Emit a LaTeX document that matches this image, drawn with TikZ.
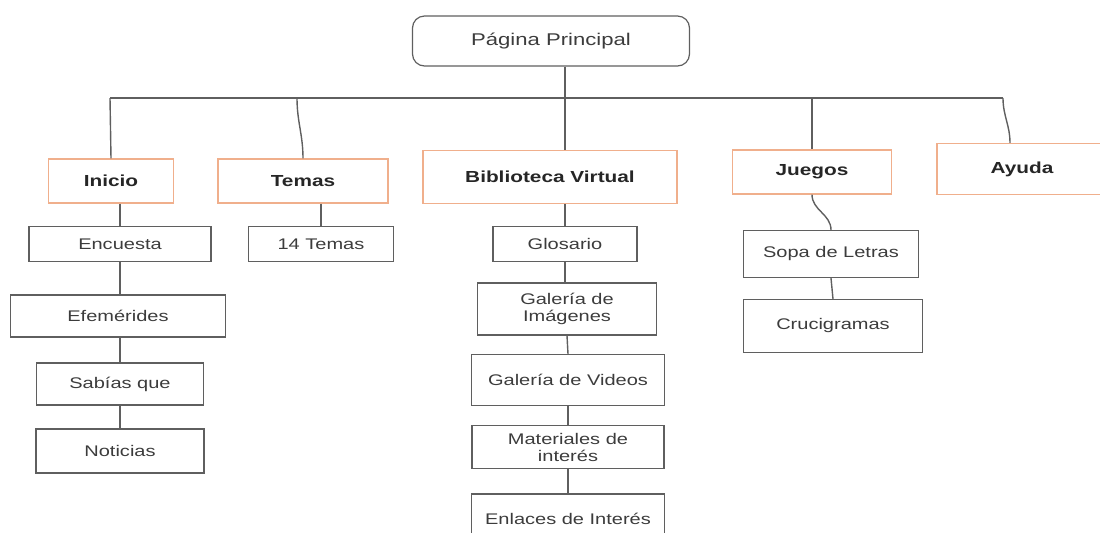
\documentclass[tikz,border=0pt]{standalone}
\usepackage{fontspec}
\setmainfont{Liberation Sans}[FakeStretch=1.3]
\usetikzlibrary{calc}

\definecolor{boxgray}{RGB}{95,95,95}
\definecolor{txtgray}{RGB}{60,60,60}
\definecolor{naranja}{RGB}{240,175,140}

\tikzset{
    caja/.style={draw=boxgray, line width=0.6pt, inner sep=1pt, align=center,
        text=txtgray, font=\fontsize{7.7}{8.5}\selectfont},
    seccion/.style={caja, draw=naranja, text=black!85,
        font=\fontsize{8}{9}\selectfont\bfseries},
    raiz/.style={caja, rounded corners=6pt, font=\fontsize{8.5}{9}\selectfont},
    linea/.style={draw=boxgray, line width=0.7pt}
}

\begin{document}
\begin{tikzpicture}[x=0.5pt, y=-0.5pt]
        \useasboundingbox (0,0) rectangle (1100,532);
        % raiz
        \node[raiz, minimum width=138.5pt, minimum height=25pt] (pag) at (551,41) {Página Principal};
        % secciones
        \node[seccion, minimum width=62.5pt, minimum height=22pt] (inicio) at (111,181) {Inicio};
        \node[seccion, minimum width=85pt, minimum height=22pt] (temas) at (303,181) {Temas};
        \node[seccion, minimum width=127pt, minimum height=26.5pt] (bib) at (550,177) {Biblioteca Virtual};
        \node[seccion, minimum width=79.5pt, minimum height=22pt] (juegos) at (812,172) {Juegos};
        \node[seccion, minimum width=85pt, minimum height=25.5pt] (ayuda) at (1022,169) {Ayuda};
        % Inicio
        \node[caja, minimum width=91pt, minimum height=17.5pt] (enc) at (120,244) {Encuesta};
        \node[caja, minimum width=107.5pt, minimum height=21pt] (efe) at (118,316) {Efemérides};
        \node[caja, minimum width=83.5pt, minimum height=21pt] (sab) at (120,384) {Sabías que};
        \node[caja, minimum width=84pt, minimum height=22pt] (noti) at (120,451) {Noticias};
        % Temas
        \node[caja, minimum width=72.5pt, minimum height=17.5pt] (catorce) at (321,244) {14 Temas};
        % Biblioteca Virtual
        \node[caja, minimum width=72pt, minimum height=17.5pt] (glos) at (565,244) {Glosario};
        \node[caja, minimum width=89.5pt, minimum height=26pt] (galimg) at (567,309) {Galería de\\Imágenes};
        \node[caja, minimum width=96.5pt, minimum height=25.5pt] (galvid) at (568,380) {Galería de Videos};
        \node[caja, minimum width=96pt, minimum height=21.5pt] (mat) at (568,447) {Materiales de\\interés};
        \node[caja, minimum width=96.5pt, minimum height=25pt] (enl) at (568,519) {Enlaces de Interés};
        % Juegos
        \node[caja, minimum width=87.5pt, minimum height=23.5pt] (sopa) at (831,254) {Sopa de Letras};
        \node[caja, minimum width=89.5pt, minimum height=26.5pt] (cruci) at (833,326) {Crucigramas};

        % barra horizontal
        \coordinate (busL) at (110,98);
        \coordinate (busR) at (1003,98);
        \draw[linea] (busL) -- (busR);
        \draw[linea] (glos |- pag.south) -- (glos |- bib.north);
        \draw[linea] (busL) -- (inicio.north);
        \draw[linea] (297,98) to[out=-90, in=90] (temas.north);
        \draw[linea] (juegos.north |- busL) -- (juegos.north);
        \draw[linea] (busR) to[out=-90, in=90] ([xshift=-6pt]ayuda.north);

        % ramas
        \draw[linea] (enc |- inicio.south) -- (enc.north);
        \draw[linea] (enc.south) -- (efe.north -| enc);
        \draw[linea] (efe.south -| enc) -- (sab.north);
        \draw[linea] (sab.south) -- (noti.north);
        \draw[linea] (catorce |- temas.south) -- (catorce.north);
        \draw[linea] (glos |- bib.south) -- (glos.north);
        \draw[linea] (glos.south) -- (galimg.north -| glos);
        \draw[linea] (galimg.south) -- (galvid.north);
        \draw[linea] (galvid.south) -- (mat.north);
        \draw[linea] (mat.south) -- (enl.north);
        \draw[linea] (juegos.south) to[out=-90, in=90] (sopa.north);
        \draw[linea] (sopa.south) -- (cruci.north);
    \end{tikzpicture}
\end{document}
